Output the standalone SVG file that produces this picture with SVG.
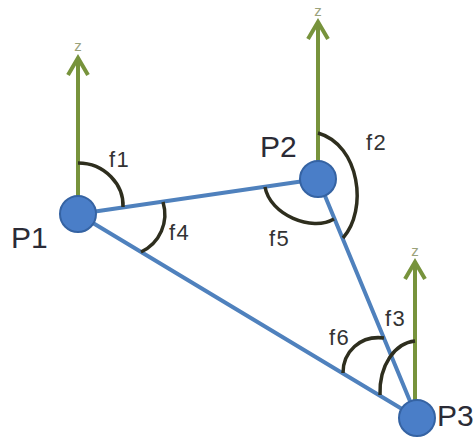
<svg xmlns="http://www.w3.org/2000/svg" width="473" height="444" viewBox="0 0 473 444">
<style>
.edge{stroke:#4f81bd;stroke-width:4;fill:none;stroke-linecap:round}
.axis{stroke:#77933c;stroke-width:4;fill:none}
.head{stroke:#77933c;stroke-width:4;fill:none;stroke-linejoin:miter;stroke-linecap:butt}
.arc{stroke:#2e2e1e;stroke-width:3.5;fill:none}
.node{fill:#4a7ec8;stroke:#3563a3;stroke-width:2}
.plabel{font-family:"Liberation Sans",Arial,sans-serif;font-size:30px;fill:#2b2b36}
.flabel{font-family:"Liberation Sans",Arial,sans-serif;font-size:22px;fill:#333333;letter-spacing:1.5px}
.zlabel{font-family:"Liberation Sans",Arial,sans-serif;font-size:15px;fill:#9aa27a;text-anchor:middle}
</style>
<rect width="473" height="444" fill="#ffffff"/>
<g id="connectors">
<line class="edge" x1="78" y1="214" x2="318" y2="179"/>
<line class="edge" x1="78" y1="214" x2="417" y2="418"/>
<line class="edge" x1="318" y1="179" x2="417" y2="418"/>
</g>
<g id="axes">
<g id="z1">
<line class="axis" x1="78" y1="196" x2="78" y2="59"/>
<polyline class="head" points="68,75 78,58 88,75"/>
<text class="zlabel" x="78" y="51">z</text>
</g>
<g id="z2">
<line class="axis" x1="318" y1="161" x2="318" y2="23"/>
<polyline class="head" points="308,39 318,22 328,39"/>
<text class="zlabel" x="318" y="16">z</text>
</g>
<g id="z3">
<line class="axis" x1="415" y1="401" x2="415" y2="263"/>
<polyline class="head" points="405,279 415,262 425,279"/>
<text class="zlabel" x="415" y="256">z</text>
</g>
</g>
<g id="angles">
<path id="a-f1" class="arc" d="M78,163 C105,163 124,185 123,207"/>
<path id="a-f4" class="arc" d="M163,202 C169,222 160,243 141,252"/>
<path id="a-f2" class="arc" d="M318,133 C360,145 368,210 343,238"/>
<path id="a-f5" class="arc" d="M265,187 C270,215 312,232 334,219"/>
<path id="a-f6" class="arc" d="M384,338 C360,335 343,352 343,373"/>
<path id="a-f3" class="arc" d="M415,341 C395,343 379,365 380,395"/>
<text class="flabel" x="109" y="167">f1</text>
<text class="flabel" x="169" y="240">f4</text>
<text class="flabel" x="366" y="150">f2</text>
<text class="flabel" x="269" y="246">f5</text>
<text class="flabel" x="385" y="326">f3</text>
<text class="flabel" x="329" y="345">f6</text>
</g>
<g id="P1">
<circle class="node" cx="78" cy="214" r="18"/>
<text class="plabel" x="11" y="248">P1</text>
</g>
<g id="P2">
<circle class="node" cx="318" cy="179" r="18"/>
<text class="plabel" x="260" y="157">P2</text>
</g>
<g id="P3">
<circle class="node" cx="417" cy="418" r="18"/>
<text class="plabel" x="437" y="426">P3</text>
</g>
</svg>
